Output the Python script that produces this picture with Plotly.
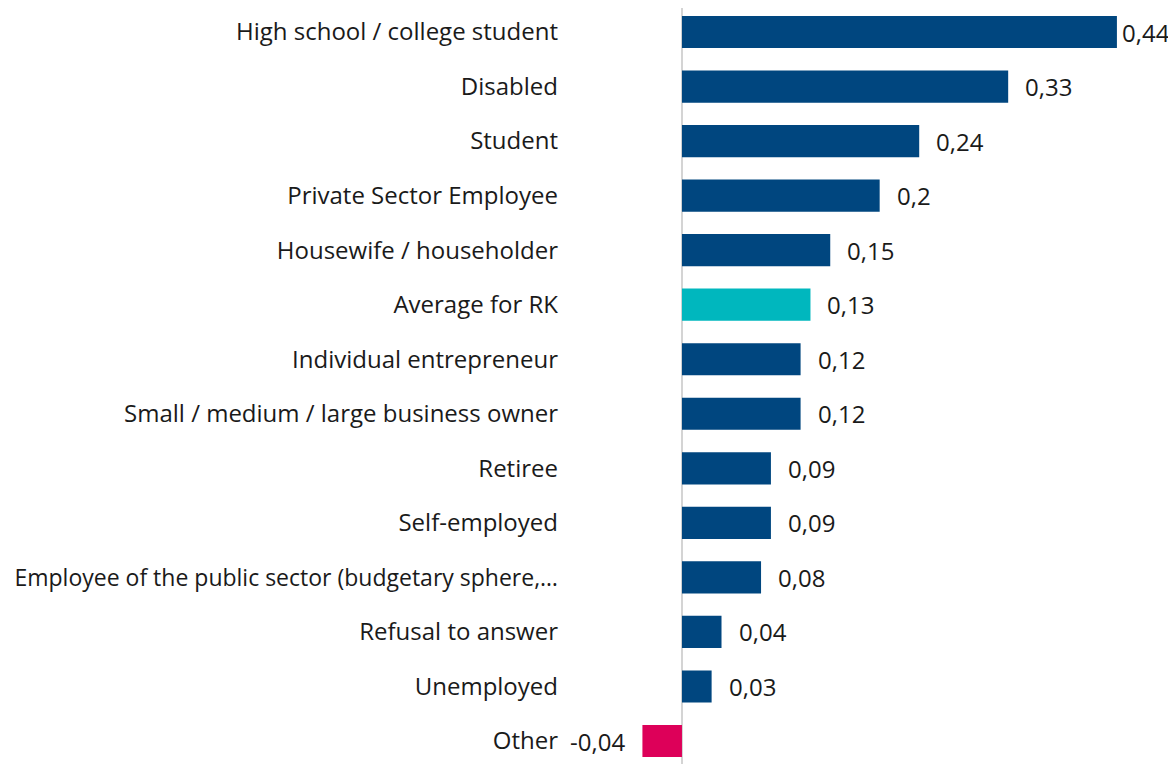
import plotly.graph_objects as go

categories = [
    "High school / college student",
    "Disabled",
    "Student",
    "Private Sector Employee",
    "Housewife / householder",
    "Average for RK",
    "Individual entrepreneur",
    "Small / medium / large business owner",
    "Retiree",
    "Self-employed",
    "Employee of the public sector (budgetary sphere,…",
    "Refusal to answer",
    "Unemployed",
    "Other",
]
values = [0.44, 0.33, 0.24, 0.2, 0.15, 0.13, 0.12, 0.12, 0.09, 0.09, 0.08, 0.04, 0.03, -0.04]

NAVY = "#00467f"
TEAL = "#00b7be"
PINK = "#dd0059"

colors = []
for c, v in zip(categories, values):
    if c == "Average for RK":
        colors.append(TEAL)
    elif v < 0:
        colors.append(PINK)
    else:
        colors.append(NAVY)

labels = [str(v).replace(".", ",") for v in values]

# the very long category is set a touch smaller so it fits the left margin
ticktext = [f'<span style="font-size:23px">{c}</span>' if len(c) > 40 else c
            for c in categories]

fig = go.Figure(go.Bar(
    x=values,
    y=categories,
    orientation="h",
    marker=dict(color=colors, line=dict(width=0)),
    width=0.59,
    hoverinfo="skip",
))

# value labels beside each bar
vmax = max(values)
for c, v, t in zip(categories, values, labels):
    if v >= 0:
        shift = 3 if v == vmax else 15
        fig.add_annotation(x=v, y=c, text=t, showarrow=False,
                           xanchor="left", xshift=shift)
    else:
        fig.add_annotation(x=v, y=c, text=t, showarrow=False,
                           xanchor="right", xshift=-15)

fig.update_layout(
    width=1176,
    height=764,
    margin=dict(l=559, r=14, t=0, b=0),
    plot_bgcolor="white",
    paper_bgcolor="white",
    font=dict(family="Open Sans", size=24, color="#1a1a1a"),
    showlegend=False,
)
fig.update_xaxes(
    range=[-0.1163, 0.4937],
    showgrid=False,
    showticklabels=False,
    zeroline=True,
    zerolinecolor="#d4d4d4",
    zerolinewidth=2,
    automargin=False,
)
fig.update_yaxes(
    type="category",
    range=[13.568, -0.44],
    tickmode="array",
    tickvals=categories,
    ticktext=ticktext,
    showgrid=False,
    ticks="",
    ticklabelstandoff=8,
    automargin=False,
)

fig.write_html("out.html")
